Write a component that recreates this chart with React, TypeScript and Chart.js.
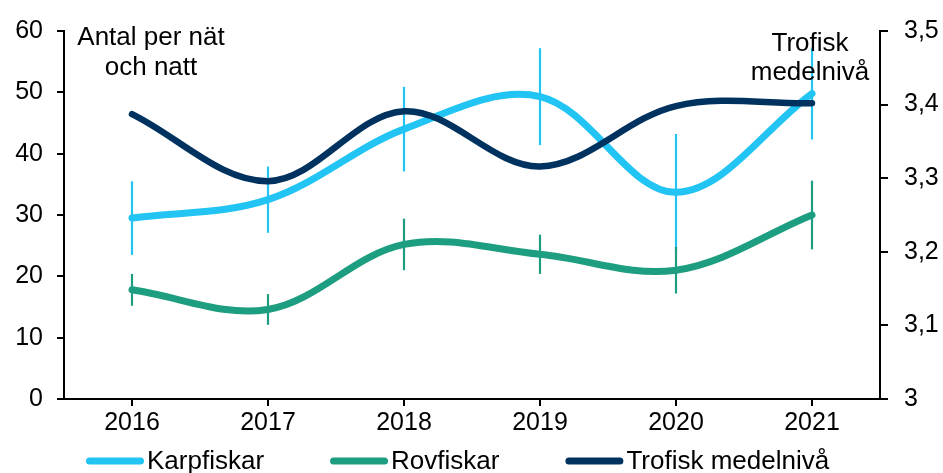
import React, { useEffect, useRef } from 'react';
import { Chart, registerables } from 'chart.js';

Chart.register(...registerables);

const years = ['2016', '2017', '2018', '2019', '2020', '2021'];
const karpfiskar = [29.5, 32.5, 44.0, 49.3, 33.7, 49.8];
const karpfiskarErr = [6.0, 5.4, 6.9, 7.9, 9.5, 7.5];
const rovfiskar = [17.8, 14.6, 25.2, 23.6, 21.0, 30.0];
const rovfiskarErr = [2.6, 2.5, 4.2, 3.2, 3.8, 5.6];
const trofisk = [3.387, 3.296, 3.391, 3.316, 3.398, 3.402];
const seriesNames = ['Karpfiskar', 'Rovfiskar', 'Trofisk medelnivå'];
const leftTitle = ['Antal per nät', 'och natt'];
const rightTitle = ['Trofisk', 'medelnivå'];
const leftAxis = { min: 0, max: 60, step: 10 };
const rightAxis = { min: 3, max: 3.5, step: 0.1 };

const FONT = '"Liberation Sans", Arial, sans-serif';
const COLORS = ['#21C4F3', '#1E9E80', '#00325F'];

const errorBarPlugin = {
  id: 'errorBars',
  beforeDatasetsDraw(chart: any) {
    const ctx = chart.ctx;
    const xs = chart.scales.x;
    const ys = chart.scales.y;
    chart.data.datasets.forEach((ds: any) => {
      const err = ds.errBars;
      if (!err) return;
      ctx.save();
      ctx.strokeStyle = ds.borderColor;
      ctx.lineWidth = 2.2;
      ctx.lineCap = 'butt';
      ds.data.forEach((v: number, j: number) => {
        const px = xs.getPixelForValue(j);
        ctx.beginPath();
        ctx.moveTo(px, ys.getPixelForValue(v + err[j]));
        ctx.lineTo(px, ys.getPixelForValue(v - err[j]));
        ctx.stroke();
      });
      ctx.restore();
    });
  },
};

const textPlugin = {
  id: 'texts',
  afterDraw(chart: any) {
    const ctx = chart.ctx;
    const area = chart.chartArea;
    ctx.save();
    ctx.font = `26px ${FONT}`;
    ctx.fillStyle = '#000';
    ctx.textBaseline = 'alphabetic';
    ctx.textAlign = 'center';
    ctx.fillText(leftTitle[0], area.left + 87, area.top + 14);
    ctx.fillText(leftTitle[1], area.left + 87, area.top + 44);
    ctx.fillText(rightTitle[0], area.right - 70, area.top + 20);
    ctx.fillText(rightTitle[1], area.right - 70, area.top + 49);

    // legend
    ctx.textAlign = 'left';
    let x = 86;
    const yc = 461;
    chart.data.datasets.forEach((ds: any) => {
      ctx.strokeStyle = ds.borderColor;
      ctx.lineWidth = 7;
      ctx.lineCap = 'round';
      ctx.beginPath();
      ctx.moveTo(x + 3.5, yc);
      ctx.lineTo(x + 58 - 3.5, yc);
      ctx.stroke();
      ctx.fillStyle = '#000';
      ctx.fillText(ds.label, x + 61, 469);
      x += 61 + ctx.measureText(ds.label).width + 66;
    });
    ctx.restore();
  },
};

export default function App() {
  const ref = useRef<HTMLCanvasElement | null>(null);

  useEffect(() => {
    if (!ref.current) return;
    const tickFont = { family: FONT, size: 25 };
    const chart = new Chart(ref.current, {
      type: 'line',
      data: {
        labels: years,
        datasets: [
          {
            label: seriesNames[0],
            data: karpfiskar,
            errBars: karpfiskarErr,
            borderColor: COLORS[0],
            backgroundColor: COLORS[0],
            borderWidth: 7,
            yAxisID: 'y',
            order: 1,
          } as any,
          {
            label: seriesNames[1],
            data: rovfiskar,
            errBars: rovfiskarErr,
            borderColor: COLORS[1],
            backgroundColor: COLORS[1],
            borderWidth: 7,
            yAxisID: 'y',
            order: 2,
          } as any,
          {
            label: seriesNames[2],
            data: trofisk,
            borderColor: COLORS[2],
            backgroundColor: COLORS[2],
            borderWidth: 6.5,
            yAxisID: 'y1',
            order: 0,
          } as any,
        ],
      },
      options: {
        animation: false,
        responsive: false,
        devicePixelRatio: 1,
        layout: { padding: { top: 26, bottom: 34, left: 0, right: 0 } },
        elements: {
          line: { tension: 0.35, borderCapStyle: 'round', borderJoinStyle: 'round', fill: false },
          point: { radius: 0, hoverRadius: 0 },
        },
        plugins: {
          legend: { display: false },
          tooltip: { enabled: false },
          title: { display: false },
        },
        scales: {
          x: {
            type: 'category',
            offset: true,
            grid: { display: true, drawOnChartArea: false, offset: false, tickLength: 7, color: '#000', lineWidth: 2 },
            border: { display: true, color: '#000', width: 2 },
            ticks: { color: '#000', font: tickFont, padding: 2, maxRotation: 0 },
            afterFit: (s: any) => { s.height = 40; },
          },
          y: {
            position: 'left',
            min: leftAxis.min,
            max: leftAxis.max,
            grid: { display: true, drawOnChartArea: false, tickLength: 7, color: '#000', lineWidth: 2 },
            border: { display: true, color: '#000', width: 2 },
            ticks: { stepSize: leftAxis.step, color: '#000', font: tickFont, padding: 14 },
            afterFit: (s: any) => { s.width = 64; },
          },
          y1: {
            position: 'right',
            min: rightAxis.min,
            max: rightAxis.max,
            grid: { display: true, drawOnChartArea: false, tickLength: 8, color: '#000', lineWidth: 2 },
            border: { display: true, color: '#000', width: 2 },
            ticks: {
              stepSize: rightAxis.step,
              color: '#000',
              font: tickFont,
              padding: 16,
              callback: (v: any) => String(Math.round(Number(v) * 10) / 10).replace('.', ','),
            },
            afterFit: (s: any) => { s.width = 63; },
          },
        },
      } as any,
      plugins: [errorBarPlugin, textPlugin],
    });
    return () => chart.destroy();
  }, []);

  return (
    <div style={{ position: 'fixed', left: 0, top: 0, width: 943, height: 473, background: '#fff' }}>
      <canvas ref={ref} width={943} height={473} style={{ display: 'block' }} />
    </div>
  );
}
